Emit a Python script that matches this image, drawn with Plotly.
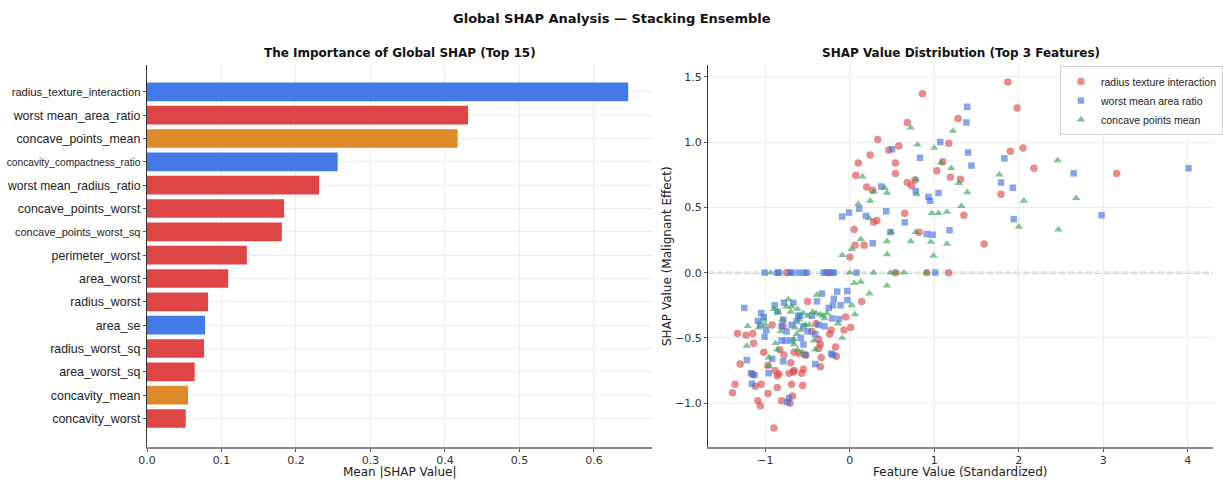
import plotly.graph_objects as go

# ---- Global SHAP importance (top 15) ----
features = [
    "radius_texture_interaction", "worst mean_area_ratio", "concave_points_mean",
    "concavity_compactness_ratio", "worst mean_radius_ratio", "concave_points_worst",
    "concave_points_worst_sq", "perimeter_worst", "area_worst", "radius_worst",
    "area_se", "radius_worst_sq", "area_worst_sq", "concavity_mean", "concavity_worst",
]
mean_abs_shap = [0.646, 0.431, 0.417, 0.256, 0.231, 0.184, 0.181, 0.134, 0.109,
                 0.082, 0.078, 0.0765, 0.064, 0.055, 0.052]
feature_group = ["engineered", "worst", "mean", "engineered", "worst", "worst",
                 "worst", "worst", "worst", "worst", "engineered", "worst",
                 "worst", "mean", "worst"]

# ---- SHAP value vs standardized feature value, top 3 features ----
rti_x = [1.87, 1.98, 1.90, 2.05, 2.18, 3.16, 1.79, 1.59,
         0.86, 0.68, 1.28, 0.33, 0.58, 0.46, 1.17, 0.54, 0.54, 1.10, 1.03, 1.19, 1.31,
         0.68, 0.73, 0.77, 0.65, 1.35, 0.32, 0.82,
         0.10, 0.24, 0.07, 0.20, 0.27, 0.28, 0.05, 0.06, 0.17, 0.00,
         -0.75, -0.25, 0.54, 0.91, 1.17,
         0.14, -0.05, 0.01, -0.07, -0.22, -0.17, -0.16, -0.35, -0.35, -0.37,
         -1.33, -1.23, -1.15, -1.14, -1.30, -1.36, -1.39, -1.15, -1.12, -1.05, -1.09,
         -1.06, -0.97, -1.02, -0.97, -0.90, -0.92, -0.885, -0.86, -0.84, -0.86, -0.81,
         -0.78, -0.72, -0.66, -0.69, -0.68, -0.71, -0.70, -0.56, -0.55, -0.66, -0.50,
         -0.57, -0.67, -0.83, -0.79, -0.37, -0.34, -0.24, -0.45, -0.60, -0.52, -0.40]
rti_y = [1.46, 1.26, 0.93, 0.955, 0.80, 0.76, 0.60, 0.22,
         1.37, 1.15, 1.18, 1.02, 0.97, 0.94, 0.99, 0.84, 0.76, 0.85, 0.78, 0.73, 0.715,
         0.69, 0.665, 0.71, 0.455, 0.44, 0.40, 0.31,
         0.84, 0.90, 0.745, 0.655, 0.63, 0.385, 0.33, 0.21, 0.21, 0.12,
         0.0, 0.0, 0.0, 0.0, 0.0,
         -0.22, -0.34, -0.42, -0.44, -0.44, -0.57, -0.64, -0.55, -0.72, -0.58,
         -0.465, -0.48, -0.465, -0.54, -0.70, -0.855, -0.92, -0.78, -0.87, -0.855, -0.98,
         -1.02, -0.925, -0.61, -0.71, -1.19, -0.40, -0.75, -0.79, -0.775, -0.88, -0.98,
         -0.63, -0.77, -0.75, -0.855, -0.945, -1.00, -0.69, -0.865, -0.74, -0.61, -0.22,
         -0.77, -0.76, -0.59, -0.41, -0.51, -0.65, -0.47, -0.45, -0.62, -0.63, -0.39]

wmar_x = [1.83, 1.79, 1.93, 2.65, 4.01, 1.94, 2.98,
          1.39, 1.38, 1.07, 0.50, 0.83, 1.40, 1.44, 0.37, 0.78, 0.93, 0.95, 1.05,
          0.43, 0.65, 0.48, 0.91, 0.98, 1.18,
          -0.09, -0.01, 0.11, 0.19, 0.27,
          -1.01, -0.86, -0.84, -0.71, -0.69, -0.61, -0.54, -0.51, -0.31, -0.28,
          -0.21, -0.19, 0.08, 1.01,
          -0.33, -0.15, -0.03, -0.19, -0.39, -0.03, -0.11, -0.20, -0.25, -0.45,
          -0.21, -0.13, -0.37, -0.30, -0.41, -0.22, -0.20, -0.41,
          -1.25, -1.05, -1.09, -0.99, -1.01, -0.78, -0.89, -0.86, -0.79, -0.81,
          -0.75, -0.81, -0.76, -0.92, -1.22, -1.13, -1.17, -0.96, -0.79, -1.16,
          -0.72, -0.74, -0.55, -0.61, -0.67, -0.59, -0.55, -0.63, -0.69, -0.69,
          -0.53, -0.58, -0.50, -1.06, -1.02]
wmar_y = [0.875, 0.69, 0.65, 0.76, 0.80, 0.41, 0.44,
          1.27, 1.15, 1.00, 0.945, 0.88, 0.92, 0.82, 0.66, 0.625, 0.58, 0.55, 0.61,
          0.47, 0.385, 0.31, 0.295, 0.29, 0.325,
          0.43, 0.46, 0.49, 0.435, 0.225,
          0.0, 0.0, 0.0, 0.0, 0.0, 0.0, 0.0, 0.0, 0.0, 0.0,
          0.0, 0.0, 0.0, 0.0,
          -0.16, -0.145, -0.14, -0.20, -0.22, -0.21, -0.25, -0.25, -0.27, -0.33,
          -0.35, -0.355, -0.40, -0.41, -0.47, -0.62, -0.63, -0.70,
          -0.27, -0.31, -0.37, -0.44, -0.49, -0.23, -0.25, -0.30, -0.36, -0.41,
          -0.45, -0.52, -0.52, -0.66, -0.67, -0.785, -0.77, -0.77, -0.68, -0.85,
          -0.96, -0.99, -0.55, -0.33, -0.23, -0.33, -0.41, -0.37, -0.40, -0.52,
          -0.63, -0.50, -0.45, -0.40, -0.34]

cpm_x = [1.77, 2.46, 2.06, 2.68, 2.00, 2.47,
         0.72, 1.22, 0.80, 1.00, 1.08, 1.20, 0.78, 1.29, 0.41, 0.44, 0.79, 1.39, 1.32,
         0.97, 1.05, 1.15, 0.49, 0.78, 0.44, 0.72, 0.96, 1.15, 0.44, 0.99,
         0.15, 0.28, 0.10, 0.24, 0.23, 0.13, 0.02, -0.09,
         -0.94, 0.00, 0.28, 0.48, 0.54, 0.64, 0.91,
         0.05, 0.13, 0.44, 0.23, 0.02, 0.06, -0.09, -0.14, -0.27, -0.39, -0.41, -0.425,
         -1.21, -1.22, -1.08, -0.96, -0.96, -0.88, -0.86, -0.73, -0.90, -0.66, -0.62,
         -0.56, -0.69, -0.85, -0.75, -0.70, -0.62, -0.60, -0.55, -0.50, -0.48, -0.44,
         -0.40, -0.35, -0.32, -0.30, -0.65, -0.63, -0.66, -0.53, -0.58, -0.80, -0.82,
         -1.02, -1.00]
cpm_y = [0.75, 0.86, 0.55, 0.57, 0.35, 0.33,
         1.11, 1.085, 0.98, 0.955, 0.84, 0.80, 0.715, 0.685, 0.65, 0.61, 0.60, 0.615, 0.51,
         0.455, 0.455, 0.465, 0.31, 0.31, 0.24, 0.24, 0.235, 0.22, 0.14, 0.13,
         0.735, 0.62, 0.525, 0.55, 0.415, 0.255, 0.18, 0.135,
         0.0, 0.0, 0.0, 0.0, 0.0, 0.0, 0.0,
         -0.08, -0.07, -0.10, -0.16, -0.25, -0.32, -0.50, -0.39, -0.31, -0.17, -0.59, -0.52,
         -0.41, -0.56, -0.42, -0.65, -0.715, -0.54, -0.59, -0.205, -0.28, -0.51, -0.59,
         -0.61, -0.26, -0.30, -0.26, -0.30, -0.28, -0.36, -0.31, -0.33, -0.40, -0.30,
         -0.31, -0.32, -0.33, -0.35, -0.42, -0.47, -0.55, -0.40, -0.44, -0.36, -0.45,
         -0.36, -0.40]

# ---- styling ----
GROUP_COLORS = {"engineered": "#4479E8", "worst": "#DF4545", "mean": "#DE8A2A"}
LABEL_SIZE = {  # px per y tick label
    "radius_texture_interaction": 11.2, "concavity_compactness_ratio": 10.2,
    "concave_points_worst_sq": 10.9, "worst mean_radius_ratio": 12.1,
}
SANS = "DejaVu Sans, Liberation Sans, sans-serif"
LABEL_FONT = "Liberation Sans, Arial, sans-serif"

W, H = 1223, 481
left_dom = [147 / W, 652 / W]
right_dom = [708 / W, 1213 / W]
y_dom = [1 - 447 / H, 1 - 65 / H]

fig = go.Figure()

fig.add_trace(go.Bar(
    x=mean_abs_shap, y=features, orientation="h",
    marker=dict(color=[GROUP_COLORS[g] for g in feature_group], line=dict(width=0)),
    width=0.8, showlegend=False, xaxis="x", yaxis="y",
))

series = [
    ("radius texture interaction", rti_x, rti_y, "circle", "rgba(216,70,70,0.62)", 7.5),
    ("worst mean area ratio", wmar_x, wmar_y, "square", "rgba(62,110,220,0.62)", 6.5),
    ("concave points mean", cpm_x, cpm_y, "triangle-up", "rgba(52,160,85,0.62)", 7.5),
]
for name, xs, ys, sym, col, size in series:
    fig.add_trace(go.Scatter(
        x=xs, y=ys, mode="markers", name=name, xaxis="x2", yaxis="y2",
        marker=dict(symbol=sym, color=col, size=size, line=dict(width=0)),
    ))

ticktext = [
    f'<span style="font-size:{LABEL_SIZE.get(f, 12.4)}px">{f}</span>' for f in features
]

axis_common = dict(
    showgrid=True, gridcolor="#ebebeb", gridwidth=1, zeroline=False, automargin=False,
    ticks="outside", ticklen=3, tickcolor="#555",
    tickfont=dict(family=SANS, size=11, color="#333"),
)

fig.update_layout(
    width=W, height=H, margin=dict(l=0, r=0, t=0, b=0, autoexpand=False),
    paper_bgcolor="white", plot_bgcolor="white",
    bargap=0.2,
    xaxis=dict(domain=left_dom, anchor="y", range=[0, 0.678],
               tickvals=[0, 0.1, 0.2, 0.3, 0.4, 0.5, 0.6], tickformat=".1f",
               ticklabelstandoff=-1,
               showline=True, linecolor="#8a8a8a", linewidth=1.6, **axis_common),
    yaxis=dict(domain=y_dom, anchor="x", type="category",
               categoryorder="array", categoryarray=features[::-1],
               tickvals=features, ticktext=ticktext, range=[-1.22, 15.15],
               showline=True, linecolor="#333", linewidth=1.2,
               **{**axis_common, "tickfont": dict(family=LABEL_FONT, size=12.4, color="#222")}),
    xaxis2=dict(domain=right_dom, anchor="y2", range=[-1.68, 4.30],
                tickvals=[-1, 0, 1, 2, 3, 4], ticklabelstandoff=-1,
                showline=True, linecolor="#8a8a8a", linewidth=1.6, **axis_common),
    yaxis2=dict(domain=y_dom, anchor="x2", range=[-1.335, 1.59],
                tickvals=[-1.0, -0.5, 0.0, 0.5, 1.0, 1.5], tickformat=".1f",
                showline=True, linecolor="#333", linewidth=1.2, **axis_common),
    legend=dict(x=1.0, xanchor="right", y=1 - 66 / H, yanchor="top",
                bgcolor="rgba(255,255,255,0.85)", bordercolor="#d0d0d0", borderwidth=1,
                font=dict(family=LABEL_FONT, size=10.5, color="#222"),
                itemwidth=30, tracegroupgap=0),
    shapes=[dict(type="line", xref="x2 domain", yref="y2", x0=0, x1=1, y0=0, y1=0,
                 line=dict(color="#a0a0a0", width=1.6, dash="6px,3px"), layer="below")],
    annotations=[
        dict(text="<b>Global SHAP Analysis — Stacking Ensemble</b>", x=0.5, y=1 - 18 / H,
             xref="paper", yref="paper", showarrow=False, xanchor="center", yanchor="middle",
             font=dict(family=SANS, size=13, color="#111")),
        dict(text="<b>The Importance of Global SHAP (Top 15)</b>",
             x=sum(left_dom) / 2, y=1 - 53 / H, xref="paper", yref="paper",
             showarrow=False, xanchor="center", yanchor="middle",
             font=dict(family=SANS, size=12, color="#111")),
        dict(text="<b>SHAP Value Distribution (Top 3 Features)</b>",
             x=sum(right_dom) / 2, y=1 - 53 / H, xref="paper", yref="paper",
             showarrow=False, xanchor="center", yanchor="middle",
             font=dict(family=SANS, size=12, color="#111")),
        dict(text="Mean |SHAP Value|", x=sum(left_dom) / 2, y=1 - 472 / H,
             xref="paper", yref="paper", showarrow=False, xanchor="center", yanchor="middle",
             font=dict(family=SANS, size=12, color="#222")),
        dict(text="Feature Value (Standardized)", x=sum(right_dom) / 2, y=1 - 472 / H,
             xref="paper", yref="paper", showarrow=False, xanchor="center", yanchor="middle",
             font=dict(family=SANS, size=12, color="#222")),
        dict(text="SHAP Value (Malignant Effect)", x=667 / W, y=1 - 256 / H, textangle=-90,
             xref="paper", yref="paper", showarrow=False, xanchor="center", yanchor="middle",
             font=dict(family=SANS, size=12, color="#222")),
    ],
)

fig.write_html("out.html")
